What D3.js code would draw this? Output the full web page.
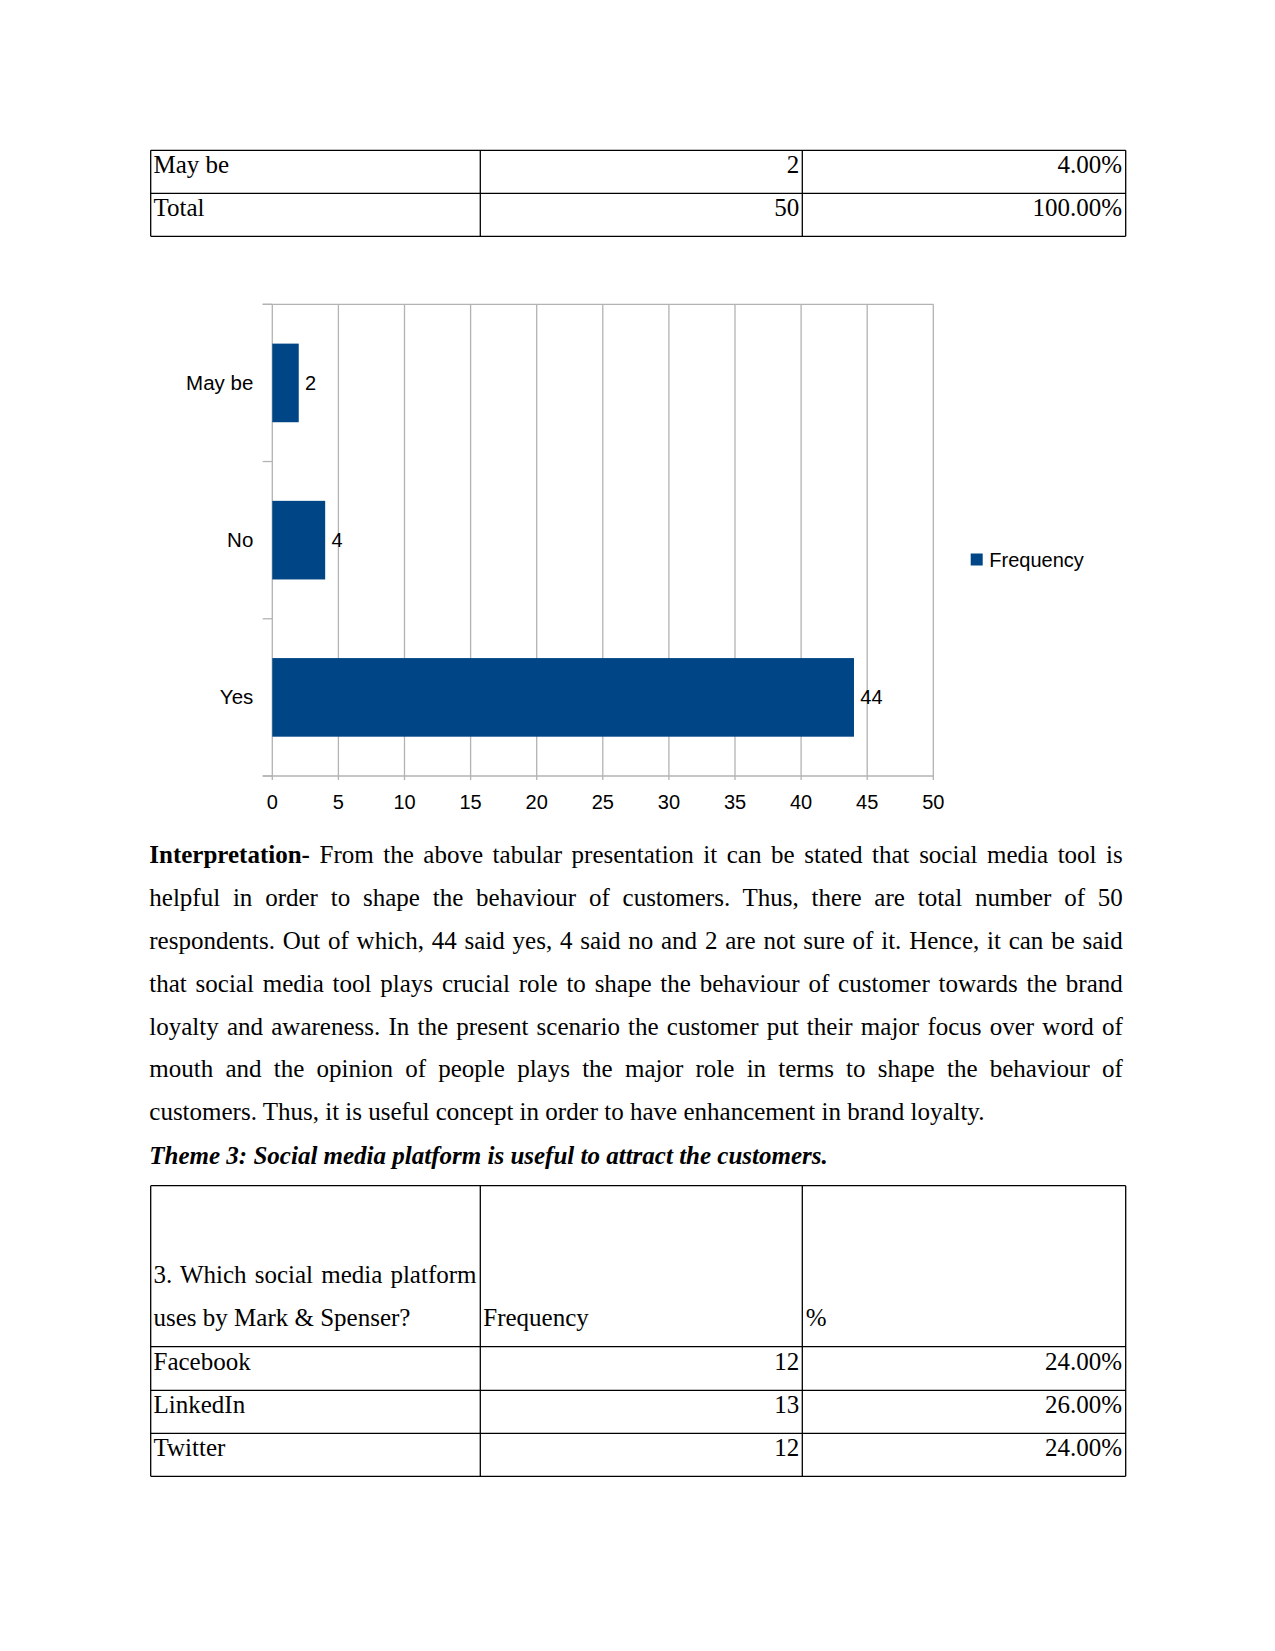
<!DOCTYPE html>
<html>
<head>
<meta charset="utf-8">
<script src="https://cdn.jsdelivr.net/npm/d3@7"></script>
<style>
  html, body { margin: 0; padding: 0; background: #fff; }
  svg { display: block; }
</style>
</head>
<body>
<svg id="page" width="1275" height="1651"></svg>
<script>
// ---------------- DATA ----------------
const categories = ["May be", "No", "Yes"];
const frequency = [2, 4, 44];
const xTicks = [0, 5, 10, 15, 20, 25, 30, 35, 40, 45, 50];
const seriesName = "Frequency";

const table1Labels = ["May be", "Total"];
const table1Counts = [2, 50];
const table1Pct = ["4.00%", "100.00%"];

const table2HeaderQ = ["3. Which social media platform", "uses by Mark & Spenser?"];
const table2HeaderCols = ["Frequency", "%"];
const table2Labels = ["Facebook", "LinkedIn", "Twitter"];
const table2Counts = [12, 13, 12];
const table2Pct = ["24.00%", "26.00%", "24.00%"];

const paraLines = [
  [{t: "Interpretation-", b: true}, {t: " From the above tabular presentation it can be stated that social media tool is"}],
  [{t: "helpful in order to shape the behaviour of customers. Thus, there are total number of 50"}],
  [{t: "respondents. Out of which, 44 said yes, 4 said no and 2 are not sure of it. Hence, it can be said"}],
  [{t: "that social media tool plays crucial role to shape the behaviour of customer towards the brand"}],
  [{t: "loyalty and awareness. In the present scenario the customer put their major focus over word of"}],
  [{t: "mouth and the opinion of people plays the major role in terms to shape the behaviour of"}],
  [{t: "customers. Thus, it is useful concept in order to have enhancement in brand loyalty."}]
];
const themeTitle = "Theme 3: Social media platform is useful to attract the customers.";

// ---------------- PAGE ----------------
const svg = d3.select("#page");
const serif = "'Liberation Serif', 'Times New Roman', serif";
const sans = "'Liberation Sans', Arial, sans-serif";
const barColor = "#004586";
const gridColor = "#b3b3b3";

function drawTable(g, colX, rowY) {
  const x0 = colX[0], x1 = colX[colX.length - 1];
  rowY.forEach(y => g.append("line").attr("x1", x0).attr("x2", x1).attr("y1", y).attr("y2", y)
    .attr("stroke", "#000").attr("stroke-width", 1.3));
  colX.forEach(x => g.append("line").attr("x1", x).attr("x2", x).attr("y1", rowY[0]).attr("y2", rowY[rowY.length - 1])
    .attr("stroke", "#000").attr("stroke-width", 1.3));
}
function cellText(g, x, y, txt, anchor) {
  return g.append("text").attr("x", x).attr("y", y).attr("text-anchor", anchor || "start")
    .attr("font-family", serif).attr("font-size", 25).attr("fill", "#000")
    .attr("xml:space", "preserve").style("white-space", "pre").text(txt);
}
function justify(t, txt, width) {
  const spaces = (txt.match(/ /g) || []).length;
  const natural = t.node().getComputedTextLength();
  if (spaces > 0) t.attr("word-spacing", (width - natural) / spaces);
}

// ---- Table 1 ----
const colX = [150.7, 480.3, 802.3, 1125.7];
const t1Rows = [150.3, 193.3, 236.3];
const t1 = svg.append("g");
drawTable(t1, colX, t1Rows);
table1Labels.forEach((lab, i) => {
  const by = t1Rows[i] + 23;
  cellText(t1, colX[0] + 2.8, by, lab);
  cellText(t1, colX[2] - 3, by, String(table1Counts[i]), "end");
  cellText(t1, colX[3] - 3.5, by, table1Pct[i], "end");
});

// ---- Chart ----
const chart = svg.append("g");
const plotTop = 304.3, plotBottom = 776, plotLeft = 272.3, plotRight = 933.3;
const x = d3.scaleLinear().domain([0, 50]).range([plotLeft, plotRight]);
const y = d3.scaleBand().domain(categories).range([plotTop, plotBottom]).paddingInner(0.5).paddingOuter(0.25);

// vertical gridlines with small outer ticks
chart.append("g").selectAll("line").data(xTicks).join("line")
  .attr("x1", d => x(d)).attr("x2", d => x(d))
  .attr("y1", plotTop).attr("y2", plotBottom + 4)
  .attr("stroke", gridColor).attr("stroke-width", 1.3);
// top and bottom horizontal lines
[plotTop, plotBottom].forEach(yy => chart.append("line")
  .attr("x1", plotLeft - 9.6).attr("x2", plotRight).attr("y1", yy).attr("y2", yy)
  .attr("stroke", gridColor).attr("stroke-width", 1.3));
// category boundary ticks on the left axis
const boundaries = d3.range(categories.length + 1).map(i => plotTop + i * (plotBottom - plotTop) / categories.length);
chart.append("g").selectAll("line").data(boundaries).join("line")
  .attr("x1", plotLeft - 9.6).attr("x2", plotLeft)
  .attr("y1", d => d).attr("y2", d => d)
  .attr("stroke", gridColor).attr("stroke-width", 1.3);

// x tick labels
chart.append("g").selectAll("text").data(xTicks).join("text")
  .attr("x", d => x(d)).attr("y", 809.3).attr("text-anchor", "middle")
  .attr("font-family", sans).attr("font-size", 20).attr("fill", "#000")
  .text(d => d);

// category labels
chart.append("g").selectAll("text").data(categories).join("text")
  .attr("x", plotLeft - 19).attr("y", d => y(d) + y.bandwidth() / 2 + 7)
  .attr("text-anchor", "end")
  .attr("font-family", sans).attr("font-size", 20.5).attr("fill", "#000")
  .text(d => d);

// bars
chart.append("g").selectAll("rect").data(categories).join("rect")
  .attr("x", x(0)).attr("y", d => y(d))
  .attr("width", (d, i) => x(frequency[i]) - x(0))
  .attr("height", y.bandwidth())
  .attr("fill", barColor);

// value labels
chart.append("g").selectAll("text").data(categories).join("text")
  .attr("x", (d, i) => x(frequency[i]) + 6.3)
  .attr("y", d => y(d) + y.bandwidth() / 2 + 7)
  .attr("font-family", sans).attr("font-size", 20).attr("fill", "#000")
  .text((d, i) => frequency[i]);

// legend
chart.append("rect").attr("x", 970.7).attr("y", 553.5).attr("width", 12).attr("height", 12).attr("fill", barColor);
chart.append("text").attr("x", 989.3).attr("y", 566.7)
  .attr("font-family", sans).attr("font-size", 20).attr("fill", "#000").text(seriesName);

// ---- Paragraph ----
const textLeft = 149.3, textRight = 1122.8;
const para = svg.append("g");
paraLines.forEach((segs, i) => {
  const by = 863.3 + i * 42.8;
  const t = para.append("text").attr("x", textLeft).attr("y", by)
    .attr("font-family", serif).attr("font-size", 25).attr("fill", "#000")
    .attr("xml:space", "preserve").style("white-space", "pre");
  segs.forEach(s => {
    t.append("tspan").attr("font-weight", s.b ? "bold" : "normal").text(s.t);
  });
  if (i < paraLines.length - 1) justify(t, segs.map(s => s.t).join(""), textRight - textLeft);
});

// theme title
svg.append("text").attr("x", textLeft).attr("y", 1164.3)
  .attr("font-family", serif).attr("font-size", 25).attr("font-weight", "bold").attr("font-style", "italic")
  .attr("fill", "#000").text(themeTitle);

// ---- Table 2 ----
const t2Rows = [1185.7, 1346.7, 1390.3, 1433.3, 1476.3];
const t2 = svg.append("g");
drawTable(t2, colX, t2Rows);
const hq = cellText(t2, colX[0] + 2.8, 1283.3, table2HeaderQ[0]);
justify(hq, table2HeaderQ[0], 476.5 - (colX[0] + 2.8));
cellText(t2, colX[0] + 2.8, 1326, table2HeaderQ[1]);
cellText(t2, colX[1] + 3, 1326, table2HeaderCols[0]);
cellText(t2, colX[2] + 3.5, 1326, table2HeaderCols[1]);
table2Labels.forEach((lab, i) => {
  const by = t2Rows[i + 1] + 22.8;
  cellText(t2, colX[0] + 2.8, by, lab);
  cellText(t2, colX[2] - 3, by, String(table2Counts[i]), "end");
  cellText(t2, colX[3] - 3.5, by, table2Pct[i], "end");
});
</script>
</body>
</html>
